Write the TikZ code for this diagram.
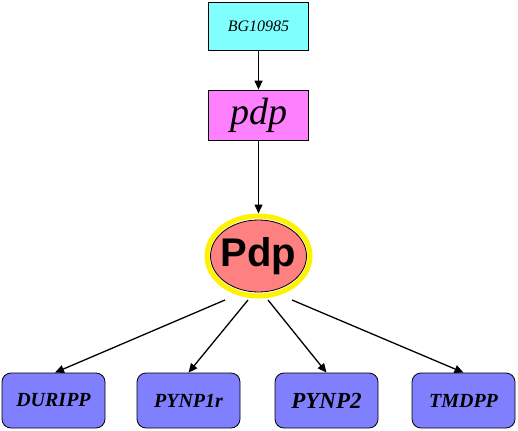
\documentclass[tikz,border=0pt]{standalone}
\usepackage{fontspec}
\setmainfont{Liberation Serif}
\newfontfamily\arialfont{Liberation Sans}
\usetikzlibrary{arrows.meta,shapes.geometric}
\definecolor{cyanbox}{HTML}{80FFFF}
\definecolor{magbox}{HTML}{FF80FF}
\definecolor{salmon}{HTML}{FF8080}
\definecolor{bluebox}{HTML}{8080FF}
\tikzset{
  genebox/.style={draw=black, line width=0.8pt, minimum width=100pt, inner sep=0pt},
  rxn/.style={draw=black, line width=0.8pt, fill=bluebox, rounded corners=9pt, minimum width=103pt, minimum height=55pt, inner sep=0pt, font=\fontsize{20}{20}\selectfont\bfseries\itshape},
  arr/.style={line width=1.3pt, -{Triangle[length=9pt,width=8pt]}}
}
\begin{document}
\begin{tikzpicture}[x=1pt,y=-1pt]
\useasboundingbox (0,0) rectangle (518,430);
\node[genebox, fill=cyanbox, minimum height=48pt, font=\fontsize{16}{16}\selectfont\itshape] (bg) at (258.5,26) {BG10985};
\node[genebox, fill=magbox, minimum height=50pt, font=\fontsize{38}{38}\selectfont\itshape] (g) at (258.5,115) {pdp};
\node[ellipse, draw=yellow, line width=5pt, minimum width=103pt, minimum height=80pt, inner sep=0pt] (py) at (258.5,256) {};
\node[ellipse, draw=black, line width=0.8pt, fill=salmon, minimum width=96pt, minimum height=72pt, inner sep=0pt] (P) at (258.5,256) {};
\node[font=\arialfont\fontsize{40}{40}\selectfont\bfseries, inner sep=0pt] (Pt) at (P.center) {Pdp};
\node[rxn] (d1) at (53.5,400.5) {DURIPP};
\node[rxn] (d2) at (188.5,400.5) {PYNP1r};
\node[rxn, font=\fontsize{23}{23}\selectfont\bfseries\itshape] (d3) at (326.5,400.5) {PYNP2};
\node[rxn] (d4) at (463.5,400.5) {TMDPP};
\coordinate (s1) at (225,300);
\coordinate (s2) at (248,300);
\coordinate (s3) at (268,300);
\coordinate (s4) at (292,300);
\draw[arr] (bg.south) -- (g.north);
\draw[arr] (g.south) -- (py.north);
\draw[arr] (s1) -- ([xshift=1.5pt]d1.north);
\draw[arr] (s2) -- (d2.north);
\draw[arr] (s3) -- (d3.north);
\draw[arr] (s4) -- (d4.north);
\end{tikzpicture}
\end{document}
